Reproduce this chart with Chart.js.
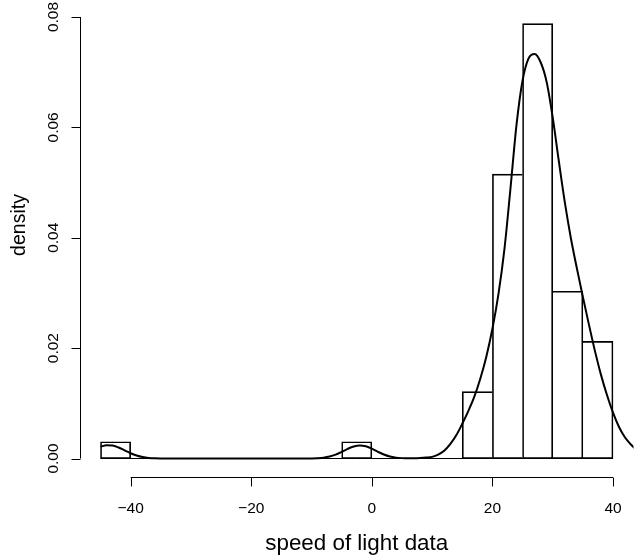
<!DOCTYPE html>
<html>
<head>
<meta charset="utf-8">
<title>speed of light data</title>
<script src="https://cdn.jsdelivr.net/npm/chart.js@4/dist/chart.umd.min.js"></script>
<style>
  html, body { margin: 0; padding: 0; background: #fff; }
  #chart { display: block; }
</style>
</head>
<body>
<canvas id="chart" width="634" height="556"></canvas>
<script>
// histogram breaks and bin densities
const breaks = [-45, -40, -35, -30, -25, -20, -15, -10, -5, 0, 5, 10, 15, 20, 25, 30, 35, 40];
const binDensity = [0.00303, 0, 0, 0, 0, 0, 0, 0, 0.00303, 0, 0, 0, 0.01212, 0.05152, 0.07879, 0.0303, 0.02121];

// density curve
const curveX = [-45, -44, -43, -42, -41, -40, -39, -38, -37, -36, -34, -30, -20, -12, -10, -9, -8, -7, -6, -5,
  -4, -3, -2, -1, 0, 1, 2, 3, 4, 5, 6, 7, 8, 9, 10, 11, 12, 13, 14, 15, 16, 17, 18, 19, 20, 21, 22, 23, 24,
  25, 26, 27, 28, 29, 30, 31, 32, 33, 34, 35, 36, 37, 38, 39, 40, 41, 42, 43, 44, 45];
const curveY = [0.00215, 0.0024, 0.00236, 0.002, 0.00148, 0.00095, 0.00054, 0.00026, 0.00011, 0.00004, 0, 0, 0, 0,
  0.00002, 0.00006, 0.00015, 0.00035, 0.0007, 0.0012, 0.00175, 0.00218, 0.00236, 0.00222, 0.00178, 0.00122,
  0.00072, 0.00036, 0.00016, 0.00007, 0.00004, 0.00005, 0.0001, 0.00018, 0.0003, 0.0007, 0.0014, 0.0026,
  0.0042, 0.0063, 0.0086, 0.0112, 0.0145, 0.0185, 0.0235, 0.0298, 0.038, 0.049, 0.0605, 0.0685, 0.0725,
  0.0733, 0.0718, 0.0682, 0.0618, 0.054, 0.0465, 0.04, 0.0345, 0.0293, 0.0243, 0.0195, 0.0152, 0.0115,
  0.0083, 0.0057, 0.0038, 0.0025, 0.0015, 0.0008];

// axis ticks
const xTicks = [-40, -20, 0, 20, 40];
const xTickLabels = ['\u221240', '\u221220', '0', '20', '40'];
const yTicks = [0, 0.02, 0.04, 0.06, 0.08];
const yTickLabels = ['0.00', '0.02', '0.04', '0.06', '0.08'];

const xTitle = 'speed of light data';
const yTitle = 'density';

const FONT = "'Liberation Sans', Arial, Helvetica, sans-serif";

const bars = binDensity.map((d, i) => ({ x: (breaks[i] + breaks[i + 1]) / 2, y: d }));
const curve = curveX.map((x, i) => ({ x, y: curveY[i] }));
const baseline = [{ x: breaks[0], y: 0 }, { x: breaks[breaks.length - 1], y: 0 }];

// shared edge between two bars is drawn once, by the taller one
const barBorder = (c) => {
  const i = c.dataIndex;
  const cur = binDensity[i];
  const prev = i > 0 ? binDensity[i - 1] : 0;
  const next = i < binDensity.length - 1 ? binDensity[i + 1] : 0;
  return { top: 1, bottom: 1, left: prev < cur ? 1 : 0, right: next <= cur ? 1 : 0 };
};

// R-style axes: line only between first and last tick, ticks outward
const rAxes = {
  id: 'rAxes',
  afterDraw(chart) {
    const { ctx, chartArea } = chart;
    const x = chart.scales.x;
    const y = chart.scales.y;
    ctx.save();
    ctx.strokeStyle = '#000';
    ctx.fillStyle = '#000';
    ctx.lineWidth = 1;

    const ay = Math.round(chartArea.bottom) + 0.5;
    const ax = Math.round(chartArea.left) + 0.5;
    ctx.beginPath();
    ctx.moveTo(x.getPixelForValue(xTicks[0]), ay);
    ctx.lineTo(x.getPixelForValue(xTicks[xTicks.length - 1]), ay);
    xTicks.forEach((v) => {
      const px = Math.round(x.getPixelForValue(v)) + 0.5;
      ctx.moveTo(px, ay);
      ctx.lineTo(px, ay + 9);
    });
    ctx.moveTo(ax, y.getPixelForValue(yTicks[0]));
    ctx.lineTo(ax, y.getPixelForValue(yTicks[yTicks.length - 1]));
    yTicks.forEach((v) => {
      const py = Math.round(y.getPixelForValue(v)) + 0.5;
      ctx.moveTo(ax, py);
      ctx.lineTo(ax - 9, py);
    });
    ctx.stroke();

    ctx.font = `15.5px ${FONT}`;
    ctx.textAlign = 'center';
    ctx.textBaseline = 'alphabetic';
    xTicks.forEach((v, i) => {
      ctx.fillText(xTickLabels[i], x.getPixelForValue(v), 512.5);
    });
    yTicks.forEach((v, i) => {
      ctx.save();
      ctx.translate(58, y.getPixelForValue(v));
      ctx.rotate(-Math.PI / 2);
      ctx.fillText(yTickLabels[i], 0, 0);
      ctx.restore();
    });

    ctx.font = `22.4px ${FONT}`;
    ctx.fillText(xTitle, (chartArea.left + chartArea.right) / 2, 550);
    ctx.save();
    ctx.translate(25, 225);
    ctx.rotate(-Math.PI / 2);
    ctx.font = `19.5px ${FONT}`;
    ctx.fillText(yTitle, 0, 0);
    ctx.restore();

    ctx.restore();
  },
};

new Chart(document.getElementById('chart'), {
  type: 'bar',
  data: {
    datasets: [
      {
        type: 'line',
        data: curve,
        borderColor: '#000',
        borderWidth: 2,
        pointRadius: 0,
        cubicInterpolationMode: 'monotone',
        order: 0,
      },
      {
        type: 'bar',
        data: bars,
        backgroundColor: 'rgba(0,0,0,0)',
        borderColor: '#000',
        borderWidth: barBorder,
        borderSkipped: false,
        barPercentage: 1,
        categoryPercentage: 1,
        order: 1,
      },
      {
        type: 'line',
        data: baseline,
        borderColor: '#000',
        borderWidth: 1,
        pointRadius: 0,
        order: 2,
      },
    ],
  },
  options: {
    responsive: false,
    animation: false,
    devicePixelRatio: 1,
    events: [],
    layout: { padding: { left: 80, right: 0.5, top: 6.5, bottom: 79 } },
    plugins: { legend: { display: false }, tooltip: { enabled: false } },
    scales: {
      x: {
        type: 'linear',
        display: false,
        offset: false,
        min: -48.4,
        max: 43.4,
        afterBuildTicks: (s) => { s.ticks = xTicks.map((value) => ({ value })); },
      },
      y: {
        type: 'linear',
        display: false,
        min: -0.00335,
        max: 0.0819,
      },
    },
  },
  plugins: [rAxes],
});
</script>
</body>
</html>
